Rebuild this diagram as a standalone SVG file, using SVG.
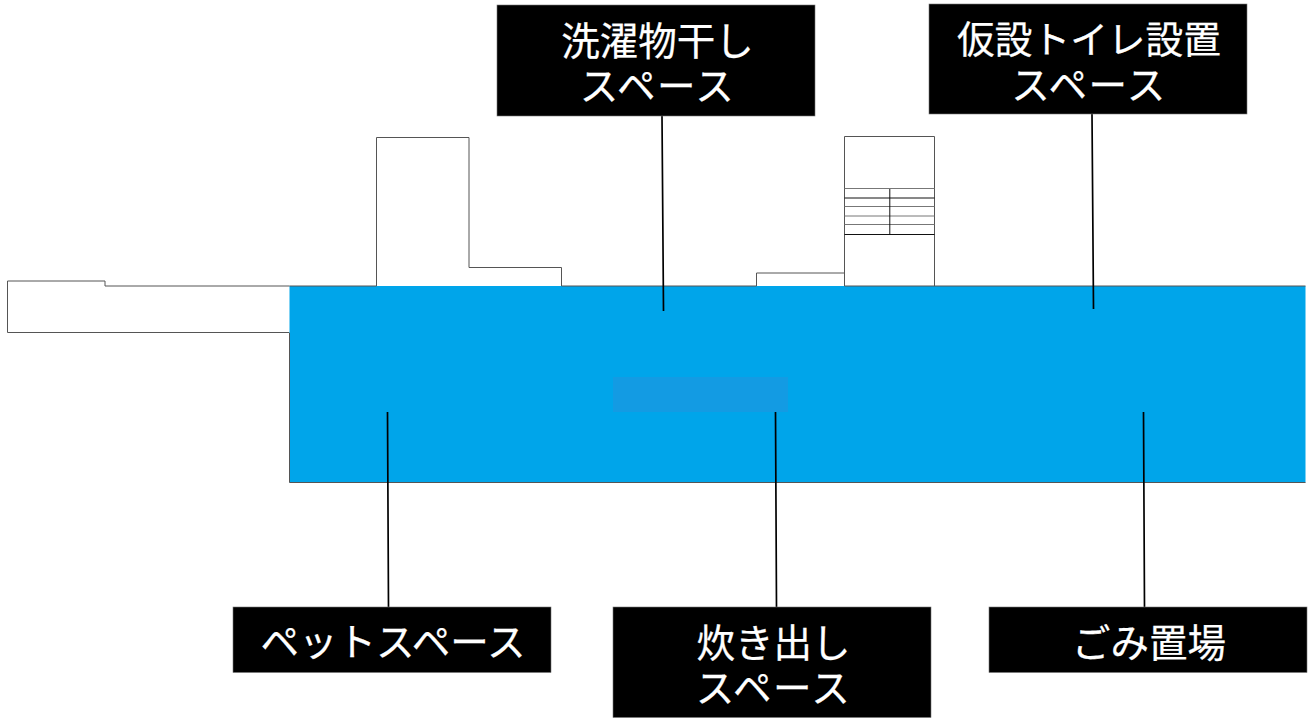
<svg xmlns="http://www.w3.org/2000/svg" width="1308" height="720" viewBox="0 0 1308 720">
<style>
.o{fill:none;stroke:#555;stroke-width:1}
.s{fill:none;stroke:#777;stroke-width:1}
.k{fill:none;stroke:#111;stroke-width:1}
.l{fill:none;stroke:#000;stroke-width:1.7}
.b{fill:#000;stroke:#777;stroke-width:.6}
.t{fill:#fff;stroke:#fff;stroke-width:.25;font-family:"Noto Sans CJK JP","Noto Sans",sans-serif;font-size:38.500px;text-anchor:middle}
.w{letter-spacing:1.500px}
</style>
<rect width="1308" height="720" fill="#fff"/>
<g id="plan">
<path class="o" d="M289.500 286H105V281H7.500V332.500H289.500"/>
<path class="o" d="M376.500 286V137.500H469V267.500H561.500V286"/>
<path class="o" d="M756.500 286V273H844.500M844.500 286V136.500H934.500V286"/>
<path class="s" d="M844.500 188.500H934.500M844.500 206.500H934.500M844.500 216H934.500M844.500 224.500H934.500"/>
<path class="k" d="M844.500 198H934.500M844.500 234.500H934.500M889.800 189V234.500"/>
<rect x="289.500" y="286" width="1016" height="196.500" fill="#00a5ea"/>
<path class="o" d="M289.500 333V482.500H1305.500M289.500 286H376.500M561.500 286H756.500M844.500 286H1305.500"/>
<rect x="613" y="377" width="175" height="35" fill="#139be3"/>
</g>
<g id="connectors">
<path class="l" d="M662 116L663.500 311M1092 114L1093.500 309M387.500 412L388.500 607M775.500 412L776.500 607M1143.500 412L1144.500 607"/>
</g>
<g id="n1"><rect class="b" x="497" y="5" width="318" height="111"/><text class="t" x="657.500" y="55">洗濯物干し<tspan class="w" x="657.500" y="100">スペース</tspan></text></g>
<g id="n2"><rect class="b" x="929" y="4" width="318" height="110"/><text class="t" x="1089" y="53" style="font-size:37.700px">仮設トイレ設置<tspan class="w" style="font-size:38.500px" x="1089" y="99">スペース</tspan></text></g>
<g id="n3"><rect class="b" x="233" y="607" width="318" height="65.500"/><text class="t" x="393" y="655.500">ペットスペース</text></g>
<g id="n4"><rect class="b" x="613" y="607" width="318" height="110.500"/><text class="t" x="773.500" y="657">炊き出し<tspan class="w" x="773.500" y="702">スペース</tspan></text></g>
<g id="n5"><rect class="b" x="989" y="607" width="318" height="65.500"/><text class="t" x="1149" y="657">ごみ置場</text></g>
</svg>
